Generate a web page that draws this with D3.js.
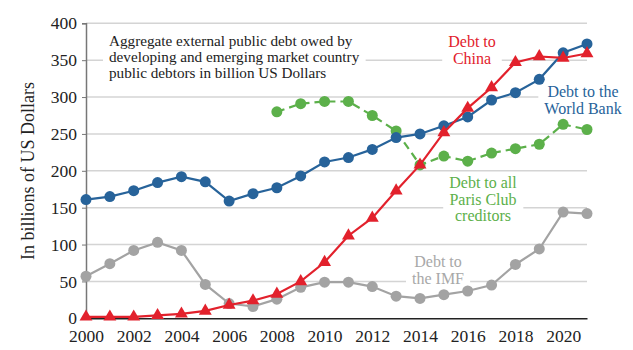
<!DOCTYPE html>
<html>
<head>
<meta charset="utf-8">
<script src="https://cdn.jsdelivr.net/npm/d3@7"></script>
<style>
  body { margin: 0; background: #fff; }
</style>
</head>
<body>
<div id="container"></div>
<script>
let years = d3.range(2000, 2022);
let worldBank = [161, 165, 173, 184, 192, 185, 159, 169, 177, 193, 212, 218, 229, 245, 250, 261, 273, 296, 306, 324, 360, 372];
let china = [2, 2, 2, 4, 6, 10, 18, 24, 33, 50, 76, 112, 136, 173, 208, 252, 285, 313, 347, 355, 353, 359];
let parisYears = d3.range(2008, 2022);
let parisClub = [280, 291, 294, 294, 275, 254, 208, 220, 213, 224, 230, 236, 263, 256];
let imf = [57, 74, 92, 103, 92, 46, 20, 16, 26, 42, 49, 49, 43, 30, 27, 32, 37, 45, 73, 94, 144, 142];
let yTicks = [0, 50, 100, 150, 200, 250, 300, 350, 400];
let xTicks = [2000, 2002, 2004, 2006, 2008, 2010, 2012, 2014, 2016, 2018, 2020];

let w = 633;
let h = 350;
let serif = "'Liberation Serif', 'Times New Roman', monospace";

let blue = "#27639a";
let red = "#e2212c";
let green = "#5cb04a";
let gray = "#a3a3a3";

let viz = d3.select("#container")
  .append("svg")
    .attr("width", w)
    .attr("height", h)
    .style("background-color", "#fff");

let xScale = d3.scaleLinear().domain([2000, 2021]).range([86, 587]);
let yScale = d3.scaleLinear().domain([0, 400]).range([318.3, 23.3]);

// gridlines
viz.append("g").selectAll("line")
  .data(yTicks.filter(d => d > 0))
  .enter().append("line")
    .attr("x1", 86).attr("x2", 587)
    .attr("y1", d => yScale(d)).attr("y2", d => yScale(d))
    .attr("stroke", "#d4d4d4")
    .attr("stroke-width", 1.5);

// labels (white box behind to break gridlines)
function label(lines, x, y0, color, size, anchor, lh) {
  let g = viz.append("g");
  let bg = g.append("rect").attr("fill", "#fff");
  let t = g.append("text")
    .attr("text-anchor", anchor)
    .style("font-family", serif)
    .style("font-size", size + "px")
    .attr("fill", color);
  lines.forEach((s, i) => {
    t.append("tspan").attr("x", x).attr("y", y0 + i * lh).text(s);
  });
  let b = t.node().getBBox();
  bg.attr("x", b.x - 6).attr("y", b.y - 2).attr("width", b.width + 12).attr("height", b.height + 4);
}

label(["Aggregate external public debt owed by", "developing and emerging market country", "public debtors in billion US Dollars"],
  109, 46, "#222", 15.2, "start", 16);
label(["Debt to", "China"], 472, 47, red, 16, "middle", 17);
label(["Debt to the", "World Bank"], 583, 97, blue, 16, "middle", 17);
label(["Debt to all", "Paris Club", "creditors"], 483, 188, green, 16, "middle", 16.5);
label(["Debt to", "the IMF"], 438, 267, "#a8a8a8", 16, "middle", 16.5);

// axes
let yAxis = d3.axisLeft(yScale).tickValues(yTicks).tickSize(4).tickPadding(5);
let yAxisGroup = viz.append("g").attr("transform", "translate(86,0)").call(yAxis);
yAxisGroup.select(".domain").attr("stroke", "#777").attr("stroke-width", 1.5);
yAxisGroup.selectAll(".tick line").attr("stroke", "#777");
yAxisGroup.selectAll("text").attr("fill", "#222")
  .style("font-family", serif).style("font-size", "17.5px");

let xAxis = d3.axisBottom(xScale).tickValues(xTicks).tickFormat(d3.format("d")).tickSize(0).tickPadding(11);
let xAxisGroup = viz.append("g").attr("transform", "translate(0,318.3)").call(xAxis);
xAxisGroup.select(".domain").attr("stroke", "#222").attr("stroke-width", 1.5);
xAxisGroup.selectAll("text").attr("fill", "#222")
  .style("font-family", serif).style("font-size", "17.5px");

viz.append("text")
  .attr("transform", "translate(34,171) rotate(-90)")
  .attr("text-anchor", "middle")
  .style("font-family", serif)
  .style("font-size", "18px")
  .attr("fill", "#222")
  .text("In billions of US Dollars");

// series
let line = d3.line().x(d => xScale(d[0])).y(d => yScale(d[1]));

function drawCircles(xs, vals, color, dashed) {
  let pts = xs.map((x, i) => [x, vals[i]]);
  viz.append("path").datum(pts)
    .attr("d", line)
    .attr("fill", "none")
    .attr("stroke", color)
    .attr("stroke-width", 2.2)
    .attr("stroke-dasharray", dashed ? "8,5" : null);
  viz.append("g").selectAll("circle")
    .data(pts).enter().append("circle")
      .attr("cx", d => xScale(d[0]))
      .attr("cy", d => yScale(d[1]))
      .attr("r", 5.5)
      .attr("fill", color);
}

drawCircles(years, imf, gray, false);
drawCircles(parisYears, parisClub, green, true);
drawCircles(years, worldBank, blue, false);

let chinaPts = years.map((x, i) => [x, china[i]]);
viz.append("path").datum(chinaPts)
  .attr("d", line)
  .attr("fill", "none")
  .attr("stroke", red)
  .attr("stroke-width", 2.2);
let tri = d3.symbol().type(d3.symbolTriangle).size(72);
viz.append("g").selectAll("path")
  .data(chinaPts).enter().append("path")
    .attr("d", tri)
    .attr("transform", d => "translate(" + xScale(d[0]) + "," + yScale(d[1]) + ")")
    .attr("fill", red);
</script>
</body>
</html>
